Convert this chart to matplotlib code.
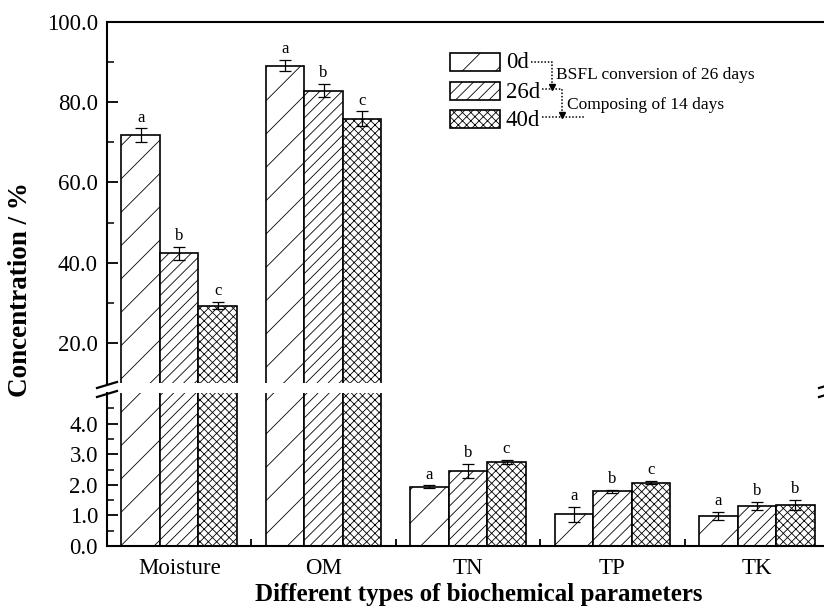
import numpy as np
import matplotlib
matplotlib.use("Agg")
import matplotlib.pyplot as plt
from matplotlib.lines import Line2D
from matplotlib.patches import Rectangle

plt.rcParams['font.family'] = ['Liberation Serif', 'DejaVu Serif']
plt.rcParams['hatch.linewidth'] = 0.6

categories = ['Moisture', 'OM', 'TN', 'TP', 'TK']
series_names = ['0d', '26d', '40d']
d0 = [71.8, 89.1, 1.93, 1.04, 0.99]
d26 = [42.3, 82.9, 2.45, 1.79, 1.31]
d40 = [29.3, 75.9, 2.74, 2.07, 1.34]
err0 = [1.7, 1.4, 0.05, 0.25, 0.13]
err26 = [1.6, 1.7, 0.23, 0.05, 0.13]
err40 = [0.9, 1.8, 0.07, 0.06, 0.17]
let0 = ['a', 'a', 'a', 'a', 'a']
let26 = ['b', 'b', 'b', 'b', 'b']
let40 = ['c', 'c', 'c', 'c', 'b']
upper_ticks = [20, 40, 60, 80, 100]
lower_ticks = [0, 1, 2, 3, 4]

values = [d0, d26, d40]
errors = [err0, err26, err40]
letters = [let0, let26, let40]
hatches = ['/', '///', 'xxxx']

W, H = 824, 611
fig = plt.figure(figsize=(W / 100, H / 100), dpi=100)

def fbox(x0, x1, ytop, ybot):
    return [x0 / W, (H - ybot) / H, (x1 - x0) / W, (ybot - ytop) / H]

ax_up = fig.add_axes(fbox(107, 829, 22, 383))
ax_lo = fig.add_axes(fbox(107, 829, 393, 546))

x = np.arange(1, len(categories) + 1)
bw = 0.8 / 3
for i in range(3):
    xs = x + (i - 1) * bw
    for ax in (ax_up, ax_lo):
        ax.bar(xs, values[i], width=bw, color='white', edgecolor='black',
               linewidth=1.2, hatch=hatches[i], zorder=2)
        ax.errorbar(xs, values[i], yerr=errors[i], fmt='none', ecolor='black',
                    elinewidth=0.9, capsize=4.5, capthick=0.9, zorder=3)
    for j in range(len(categories)):
        v = values[i][j]
        ax = ax_up if v > 10 else ax_lo
        ax.annotate(letters[i][j], (xs[j], v + errors[i][j]), xytext=(0, 2),
                    textcoords='offset points', ha='center', va='bottom',
                    fontsize=12)

for ax in (ax_up, ax_lo):
    ax.set_xlim(0.5, 5.5)
    for s in ax.spines.values():
        s.set_linewidth(1.5)
    ax.tick_params(axis='y', which='major', direction='in', length=8, width=1.3,
                   labelsize=16.5, pad=6.5)
    ax.tick_params(axis='y', which='minor', direction='in', length=5, width=1.1)

ax_up.set_ylim(10, 100)
ax_up.set_yticks(upper_ticks)
ax_up.set_yticks([30, 50, 70, 90], minor=True)
ax_up.set_yticklabels([f'{t:.1f}' for t in upper_ticks])
ax_up.spines['bottom'].set_visible(False)
ax_up.set_xticks([])

ax_lo.set_ylim(0, 5)
ax_lo.set_yticks(lower_ticks)
ax_lo.set_yticks(np.arange(0.5, 5, 1.0), minor=True)
ax_lo.set_yticklabels([f'{t:.1f}' for t in lower_ticks])
ax_lo.spines['top'].set_visible(False)
ax_lo.set_xticks(x)
ax_lo.set_xticklabels(categories)
ax_lo.set_xticks([1.5, 2.5, 3.5, 4.5], minor=True)
ax_lo.tick_params(axis='x', which='major', length=0, labelsize=16.5, pad=9)
ax_lo.tick_params(axis='x', which='minor', direction='in', length=5, width=1.3)

# overlay for labels, breaks and legend (pixel coordinates)
ov = fig.add_axes([0, 0, 1, 1])
ov.set_xlim(0, W)
ov.set_ylim(H, 0)
ov.axis('off')
ov.patch.set_alpha(0)

for xc in (107, 829):
    for yc in (385, 394):
        ov.add_line(Line2D([xc - 10, xc + 10], [yc + 3, yc - 3], color='black', lw=1.6))

fig.text(21 / W, 1 - 290 / H, 'Concentration / %', rotation=90, ha='center', va='center',
         fontsize=19.5, fontweight='bold')
fig.text(479 / W, 1 - 595 / H, 'Different types of biochemical parameters', ha='center',
         va='center', fontsize=18, fontweight='bold')

# legend
rows_y = [53, 82, 110]
for yt, h, name in zip(rows_y, hatches, series_names):
    ov.add_patch(Rectangle((450, yt), 50, 18, facecolor='white', edgecolor='black',
                           linewidth=1.2, hatch=h))
    ov.text(506, yt + 10, name, ha='left', va='center', fontsize=16.5)

dot = dict(color='black', lw=1.1, ls=(0, (1, 1.2)))
ov.add_line(Line2D([531, 552, 552], [62, 62, 85], **dot))
ov.plot([552], [87], marker='v', color='black', markersize=5)
ov.text(556, 75, 'BSFL conversion of 26 days', ha='left', va='center', fontsize=12.5)
ov.add_line(Line2D([542, 562, 562], [89, 89, 113], **dot))
ov.plot([562], [115], marker='v', color='black', markersize=5)
ov.text(567, 105, 'Composing of 14 days', ha='left', va='center', fontsize=12.5)
ov.add_line(Line2D([542, 584], [117, 117], **dot))

fig.savefig('out.png', dpi=100)
